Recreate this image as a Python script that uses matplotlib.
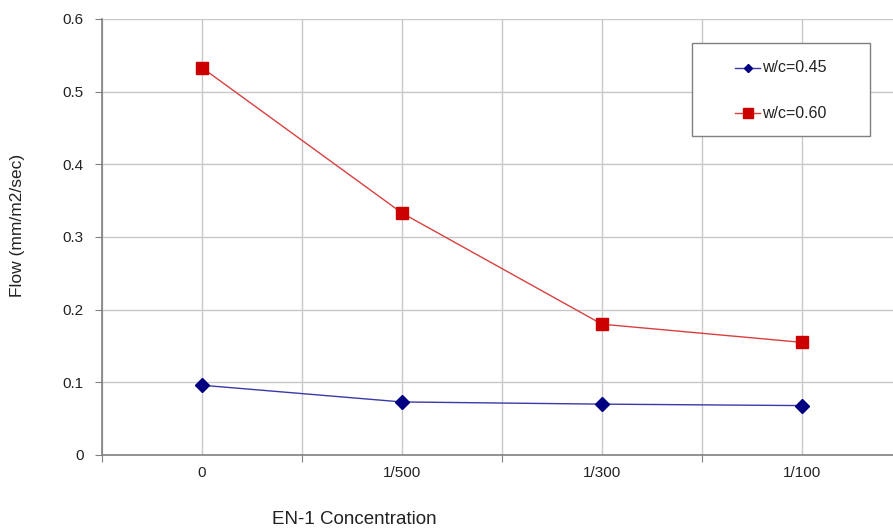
import numpy as np
import matplotlib.pyplot as plt
from matplotlib.lines import Line2D
from matplotlib.patches import Rectangle

plt.rcParams['font.family'] = ['Liberation Sans', 'DejaVu Sans']

categories = ['0', '1/500', '1/300', '1/100']
wc045 = [0.096, 0.073, 0.070, 0.068]
wc060 = [0.533, 0.333, 0.180, 0.155]
series_names = ['w/c=0.45', 'w/c=0.60']

W, H = 893, 528
fig = plt.figure(figsize=(W / 100, H / 100), dpi=100)
ax = fig.add_axes([102 / W, 73 / H, 800 / W, 436 / H])

xc = np.arange(len(categories)) + 0.5

blue = dict(color='#3a3aa8', lw=1.0, marker='D', mfc='#000080', mec='#000080')
red = dict(color='#d84040', lw=1.0, marker='s', mfc='#cc0000', mec='#cc0000')

ax.plot(xc, wc045, ms=7.5, zorder=3, **blue)
ax.plot(xc, wc060, ms=9, zorder=3, **red)

ax.set_xlim(0, len(categories))
ax.set_ylim(0, 0.6)
ax.set_yticks(np.arange(0, 0.61, 0.1))
ax.set_yticklabels(['0', '0.1', '0.2', '0.3', '0.4', '0.5', '0.6'])

# tick marks sit on category boundaries, labels on the centres
ax.set_xticks(np.arange(len(categories) + 1))
ax.set_xticklabels([])
ax.set_xticks(xc, minor=True)
ax.set_xticklabels(categories, minor=True)
ax.tick_params(axis='x', which='major', length=5, color='#808080')
ax.tick_params(axis='x', which='minor', length=0, pad=8)
ax.tick_params(axis='y', length=5, color='#808080', pad=8)
ax.tick_params(which='both', labelsize=11, labelcolor='#222222')

ax.grid(True, which='both', color='#c8c8c8', lw=1.0)
ax.set_axisbelow(True)
for s in ['top', 'right']:
    ax.spines[s].set_visible(False)
for s in ['left', 'bottom']:
    ax.spines[s].set_color('#808080')
    ax.spines[s].set_linewidth(1.2)

# legend box, laid out in pixel positions
def px(x, y):
    return x / W, 1 - y / H

box_x0, box_y0, box_x1, box_y1 = 692, 43, 870, 136
fig.add_artist(Rectangle(px(box_x0, box_y1), (box_x1 - box_x0) / W,
                         (box_y1 - box_y0) / H, transform=fig.transFigure,
                         facecolor='white', edgecolor='#808080', lw=1.0, zorder=5))
for y, name, style, ms in [(68, series_names[0], blue, 4.5),
                           (113, series_names[1], red, 6.5)]:
    (x0, yy), (x1, _) = px(735, y), px(760, y)
    fig.add_artist(Line2D([x0, x1], [yy, yy], transform=fig.transFigure,
                          zorder=6, **{k: v for k, v in style.items() if k != 'marker'}))
    fig.add_artist(Line2D([(x0 + x1) / 2], [yy], transform=fig.transFigure,
                          ms=ms, ls='none', zorder=7,
                          **{k: v for k, v in style.items() if k not in ('color', 'lw')}))
    fig.text(762 / W, yy, name, ha='left', va='center', fontsize=11.5,
             color='#222222', zorder=8)

fig.text(18 / W, 1 - 225 / H, 'Flow (mm/m2/sec)', rotation=90,
         ha='center', va='center', fontsize=12.5, color='#222222')
fig.text(354 / W, 1 - 519 / H, 'EN-1 Concentration', ha='center',
         va='center', fontsize=13.5, color='#222222')

fig.savefig('out.png', dpi=100)
